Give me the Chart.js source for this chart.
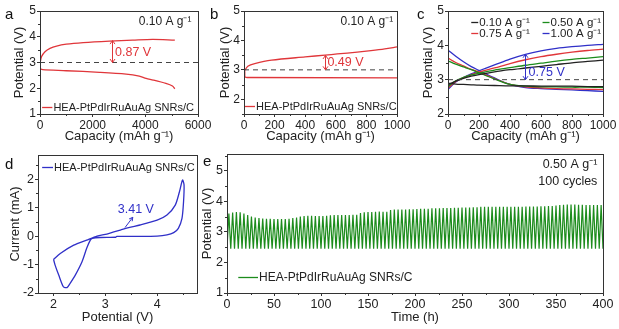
<!DOCTYPE html>
<html>
<head>
<meta charset="utf-8">
<script src="https://cdn.jsdelivr.net/npm/chart.js@4.4.1/dist/chart.umd.min.js"></script>
<style>
  body { margin: 0; background: #fff; width: 619px; height: 329px; overflow: hidden; position: relative;
         font-family: "Liberation Sans", Arial, sans-serif; }
  canvas { position: absolute; }
  .tag { position: absolute; font-size: 15px; color: #111; line-height: 1; }
</style>
</head>
<body>
<canvas id="pa"></canvas>
<canvas id="pb"></canvas>
<canvas id="pc"></canvas>
<canvas id="pd"></canvas>
<canvas id="pe"></canvas>
<div class="tag" style="left:5px;top:6px">a</div>
<div class="tag" style="left:210px;top:6px">b</div>
<div class="tag" style="left:417px;top:6px">c</div>
<div class="tag" style="left:5px;top:156px">d</div>
<div class="tag" style="left:203px;top:153px">e</div>
<script>
// ---- panel a: 0.10 A/g full discharge/charge
const aChargeCap = [0, 60, 190, 380, 630, 1000, 1640, 2640, 3520, 4280, 5120];
const aChargeV   = [2.97, 3.23, 3.42, 3.55, 3.64, 3.71, 3.77, 3.83, 3.87, 3.9, 3.87];
const aDischCap  = [0, 100, 1000, 2260, 3270, 3770, 4030, 4300, 4780, 5030, 5120];
const aDischV    = [2.75, 2.72, 2.68, 2.62, 2.55, 2.47, 2.38, 2.32, 2.19, 2.09, 1.98];
const aXTicks = [0, 2000, 4000, 6000];
const aYTicks = [1, 2, 3, 4, 5];

// ---- panel b: 1000 mAh/g limited capacity
const bChargeCap = [0, 5, 25, 70, 180, 400, 530, 610, 740, 830, 920, 1000];
const bChargeV   = [2.9, 2.98, 3.12, 3.21, 3.33, 3.44, 3.5, 3.54, 3.6, 3.65, 3.71, 3.78];
const bDischCap  = [0, 5, 20, 1000];
const bDischV    = [2.95, 2.76, 2.74, 2.73];
const bXTicks = [0, 200, 400, 600, 800, 1000];
const bYTicks = [2, 3, 4, 5];

// ---- panel c: rate curves
const cCap = [0, 50, 100, 150, 200, 300, 400, 500, 600, 700, 800, 900, 1000];
const cRates = ['0.10 A g⁻¹', '0.50 A g⁻¹', '0.75 A g⁻¹', '1.00 A g⁻¹'];
const cCharge010 = [2.85, 2.96, 3.04, 3.1, 3.15, 3.23, 3.29, 3.34, 3.39, 3.44, 3.49, 3.53, 3.57];
const cCharge050 = [2.8, 2.97, 3.07, 3.14, 3.19, 3.28, 3.35, 3.42, 3.48, 3.54, 3.59, 3.63, 3.67];
const cCharge075 = [2.75, 2.95, 3.06, 3.15, 3.22, 3.34, 3.47, 3.58, 3.67, 3.74, 3.8, 3.85, 3.89];
const cCharge100 = [2.72, 2.93, 3.06, 3.17, 3.26, 3.43, 3.6, 3.74, 3.84, 3.91, 3.96, 4.0, 4.03];
const cDisch010  = [2.9, 2.87, 2.86, 2.85, 2.84, 2.83, 2.82, 2.82, 2.81, 2.81, 2.81, 2.8, 2.8];
const cDisch050  = [3.55, 3.45, 3.37, 3.29, 3.2, 3.02, 2.86, 2.81, 2.79, 2.79, 2.78, 2.78, 2.77];
const cDisch075  = [3.63, 3.5, 3.4, 3.3, 3.22, 3.03, 2.86, 2.79, 2.76, 2.74, 2.73, 2.72, 2.71];
const cDisch100  = [3.86, 3.68, 3.52, 3.38, 3.27, 3.05, 2.86, 2.77, 2.74, 2.72, 2.7, 2.68, 2.66];
const cXTicks = [0, 200, 400, 600, 800, 1000];
const cYTicks = [2, 3, 4, 5];

// ---- panel d: CV loop
const dV = [2.0, 2.13, 2.39, 2.64, 2.84, 3.03, 3.29, 3.45, 3.67, 4.0, 4.19, 4.35, 4.43, 4.49, 4.52, 4.51,
            4.48, 4.41, 4.32, 4.19, 4.0, 3.6, 3.22, 3.2, 2.9, 2.75, 2.71, 2.64, 2.55, 2.42, 2.32, 2.26,
            2.19, 2.1, 2.03, 2.0];
const dI = [-0.82, -0.61, -0.32, -0.14, 0.0, 0.07, 0.21, 0.3, 0.39, 0.56, 0.74, 1.09, 1.55, 1.97, 1.8, 1.2,
            0.62, 0.27, 0.12, 0.04, 0.0, -0.01, -0.01, -0.04, -0.05, -0.08, -0.14, -0.43, -0.9, -1.37, -1.66, -1.81,
            -1.78, -1.37, -1.02, -0.82];
const dXTicks = [2, 3, 4];
const dYTicks = [-2, -1, 0, 1, 2];

// ---- panel e: 100 cycles at 0.50 A/g, 4 h per cycle
const ePeak = [3.60, 3.63, 3.65, 3.64, 3.60, 3.55, 3.50, 3.47, 3.45, 3.44,
               3.43, 3.43, 3.42, 3.42, 3.42, 3.42, 3.43, 3.45, 3.47, 3.50,
               3.52, 3.53, 3.53, 3.52, 3.52, 3.52, 3.53, 3.54, 3.55, 3.55,
               3.55, 3.55, 3.55, 3.56, 3.56, 3.62, 3.64, 3.65, 3.65, 3.66,
               3.67, 3.66, 3.66, 3.72, 3.73, 3.73, 3.73, 3.73, 3.74, 3.74,
               3.75, 3.76, 3.76, 3.76, 3.77, 3.77, 3.77, 3.78, 3.78, 3.78,
               3.79, 3.79, 3.80, 3.80, 3.80, 3.81, 3.81, 3.82, 3.82, 3.82,
               3.82, 3.82, 3.82, 3.82, 3.82, 3.82, 3.82, 3.82, 3.82, 3.83,
               3.83, 3.83, 3.83, 3.84, 3.84, 3.85, 3.85, 3.86, 3.88, 3.89,
               3.90, 3.90, 3.90, 3.89, 3.89, 3.88, 3.88, 3.88, 3.88, 3.88];
const eLow = 2.45;
const eCycleHours = 4;
const eXTicks = [0, 50, 100, 150, 200, 250, 300, 350, 400];
const eYTicks = [1, 2, 3, 4, 5];

const FONT = '"Liberation Sans", Arial, sans-serif';
const INK = '#222';
const RED = '#e0363a';
const BLUE = '#3030c8';
const GREEN = '#1c8c1c';
const BLACK = '#222';

function pts(xs, ys) {
    return xs.map((x, i) => ({ x, y: ys[i] }));
}

function curve(data, color, extra) {
    return Object.assign({ data, borderColor: color, borderWidth: 1.3, pointRadius: 0, tension: 0.3 }, extra || {});
}

function refLine(x0, x1, y) {
    return { data: [{ x: x0, y }, { x: x1, y }], borderColor: '#444', borderWidth: 1,
             borderDash: [5, 4], pointRadius: 0 };
}

function cycleTrace() {
    const out = [];
    ePeak.forEach((p, i) => {
        out.push({ x: i * eCycleHours, y: eLow });
        out.push({ x: i * eCycleHours + eCycleHours / 2, y: p });
    });
    out.push({ x: ePeak.length * eCycleHours, y: eLow });
    return out;
}

// box frame + minor ticks
const frame = {
    id: 'frame',
    afterDraw(chart) {
        const { ctx, chartArea: a } = chart;
        ctx.save();
        ctx.strokeStyle = '#333';
        ctx.lineWidth = 1;
        ctx.strokeRect(Math.round(a.left) + 0.5, Math.round(a.top) + 0.5,
                       Math.round(a.right - a.left), Math.round(a.bottom - a.top));
        const xs = chart.scales.x, ys = chart.scales.y;
        const minors = (s) => {
            const t = s.ticks.map(k => k.value);
            const step = t[1] - t[0];
            const out = [];
            for (let v = t[0] - step / 2; v <= s.max + 1e-9; v += step) {
                if (v >= s.min - 1e-9) out.push(v);
            }
            return out;
        };
        ctx.beginPath();
        minors(xs).forEach(v => {
            const p = Math.round(xs.getPixelForValue(v)) + 0.5;
            ctx.moveTo(p, a.bottom); ctx.lineTo(p, a.bottom + 2);
        });
        minors(ys).forEach(v => {
            const p = Math.round(ys.getPixelForValue(v)) + 0.5;
            ctx.moveTo(a.left, p); ctx.lineTo(a.left - 2, p);
        });
        ctx.stroke();
        ctx.restore();
    }
};

// annotations: texts, arrows, legend keys, all placed in data units
function notes(list) {
    return {
        id: 'notes',
        afterDatasetsDraw(chart) {
            const { ctx } = chart;
            const X = v => chart.scales.x.getPixelForValue(v);
            const Y = v => chart.scales.y.getPixelForValue(v);
            ctx.save();
            list.forEach(n => {
                ctx.strokeStyle = n.c; ctx.fillStyle = n.c;
                if (n.t === 'text') {
                    ctx.font = (n.size || 12) + 'px ' + FONT;
                    ctx.textAlign = n.align || 'left';
                    ctx.textBaseline = 'middle';
                    ctx.fillText(n.s, X(n.x), Y(n.y));
                } else if (n.t === 'arrow') {
                    // double headed, y1 above y2
                    const x = Math.round(X(n.x)) + 0.5, top = Y(n.y1), bot = Y(n.y2);
                    ctx.lineWidth = 1;
                    ctx.beginPath();
                    ctx.moveTo(x, top); ctx.lineTo(x, bot);
                    ctx.moveTo(x - 2.5, top + 3.5); ctx.lineTo(x, top); ctx.lineTo(x + 2.5, top + 3.5);
                    ctx.moveTo(x - 2.5, bot - 3.5); ctx.lineTo(x, bot); ctx.lineTo(x + 2.5, bot - 3.5);
                    ctx.stroke();
                } else if (n.t === 'ray') {
                    const x1 = X(n.x1), y1 = Y(n.y1), x2 = X(n.x2), y2 = Y(n.y2);
                    const ang = Math.atan2(y2 - y1, x2 - x1);
                    ctx.lineWidth = 1;
                    ctx.beginPath();
                    ctx.moveTo(x1, y1); ctx.lineTo(x2, y2);
                    ctx.moveTo(x2 - 4 * Math.cos(ang - 0.5), y2 - 4 * Math.sin(ang - 0.5));
                    ctx.lineTo(x2, y2);
                    ctx.lineTo(x2 - 4 * Math.cos(ang + 0.5), y2 - 4 * Math.sin(ang + 0.5));
                    ctx.stroke();
                } else if (n.t === 'key') {
                    const y = Math.round(Y(n.y)) + 0.5;
                    ctx.lineWidth = 1.3;
                    ctx.beginPath();
                    ctx.moveTo(X(n.x1), y); ctx.lineTo(X(n.x2), y);
                    ctx.stroke();
                    ctx.fillStyle = INK;
                    ctx.font = (n.size || 11) + 'px ' + FONT;
                    ctx.textAlign = 'left';
                    ctx.textBaseline = 'middle';
                    ctx.fillText(n.s, X(n.x2) + 1, y);
                }
            });
            ctx.restore();
        }
    };
}

// box: canvas rect on page, area: wanted plot rect on page, titleX: centre of y title
function makePanel(id, box, area, cfg) {
    const cv = document.getElementById(id);
    cv.width = box.w; cv.height = box.h;
    cv.style.left = box.l + 'px'; cv.style.top = box.t + 'px';
    const padL = cfg.titleX - box.l - 7.5;
    const yW = area.l - box.l - padL;
    const xH = box.t + box.h - area.b;
    const axis = (o) => ({
        type: 'linear', min: o.min, max: o.max,
        afterBuildTicks: s => { s.ticks = o.ticks.map(v => ({ value: v })); },
        grid: { drawOnChartArea: false, drawTicks: true, tickLength: 3, color: '#333', lineWidth: 1 },
        border: { display: false },
        ticks: { padding: 1, color: INK, autoSkip: false, minRotation: 0, maxRotation: 0,
                 font: { family: FONT, size: cfg.tickSize }, callback: v => String(v) },
        title: { display: true, text: o.title, color: INK, padding: 0, font: { family: FONT, size: 13 } }
    });
    const xs = axis(cfg.x);
    xs.afterFit = s => { s.height = xH; s.paddingLeft = 0; s.paddingRight = 0; };
    const ys = axis(cfg.y);
    ys.afterFit = s => { s.width = yW; s.paddingTop = 0; s.paddingBottom = 0; };
    return new Chart(cv, {
        type: 'line',
        data: { datasets: cfg.datasets },
        options: {
            responsive: false,
            animation: false,
            events: [],
            layout: { padding: { left: padL, top: area.t - box.t, right: box.l + box.w - area.r, bottom: 0 } },
            scales: { x: xs, y: ys },
            plugins: { legend: { display: false }, tooltip: { enabled: false } }
        },
        plugins: [frame, notes(cfg.notes)]
    });
}

const capTitle = 'Capacity (mAh g⁻¹)';

makePanel('pa', { l: 0, t: 0, w: 215, h: 144 }, { l: 40, t: 11, r: 198, b: 114 }, {
    titleX: 19, tickSize: 12,
    x: { min: 0, max: 6000, ticks: aXTicks, title: capTitle },
    y: { min: 1, max: 5, ticks: aYTicks, title: 'Potential (V)' },
    datasets: [
        refLine(0, 6000, 3),
        curve(pts(aChargeCap, aChargeV), RED),
        curve(pts(aDischCap, aDischV), RED)
    ],
    notes: [
        { t: 'text', x: 5750, y: 4.57, s: '0.10 A g⁻¹', c: INK, align: 'right', size: 12 },
        { t: 'arrow', x: 2720, y1: 3.85, y2: 3.0, c: RED },
        { t: 'text', x: 2850, y: 3.37, s: '0.87 V', c: RED, size: 12.5 },
        { t: 'key', x1: 80, x2: 470, y: 1.27, s: 'HEA-PtPdIrRuAuAg SNRs/C', c: RED, size: 11 }
    ]
});

makePanel('pb', { l: 205, t: 0, w: 205, h: 144 }, { l: 244, t: 11, r: 397, b: 114 }, {
    titleX: 225, tickSize: 12,
    x: { min: 0, max: 1000, ticks: bXTicks, title: capTitle },
    y: { min: 1.5, max: 5, ticks: bYTicks, title: 'Potential (V)' },
    datasets: [
        refLine(0, 1000, 3),
        curve(pts(bChargeCap, bChargeV), RED),
        curve(pts(bDischCap, bDischV), RED, { tension: 0 })
    ],
    notes: [
        { t: 'text', x: 975, y: 4.63, s: '0.10 A g⁻¹', c: INK, align: 'right', size: 12 },
        { t: 'arrow', x: 530, y1: 3.49, y2: 3.0, c: RED },
        { t: 'text', x: 545, y: 3.25, s: '0.49 V', c: RED, size: 12.5 },
        { t: 'key', x1: 6, x2: 72, y: 1.77, s: 'HEA-PtPdIrRuAuAg SNRs/C', c: RED, size: 11 }
    ]
});

makePanel('pc', { l: 408, t: 0, w: 211, h: 144 }, { l: 448, t: 11, r: 603, b: 114 }, {
    titleX: 428, tickSize: 12,
    x: { min: 0, max: 1000, ticks: cXTicks, title: capTitle },
    y: { min: 2, max: 5, ticks: cYTicks, title: 'Potential (V)' },
    datasets: [
        refLine(0, 1000, 3),
        curve(pts(cCap, cCharge010), BLACK),
        curve(pts(cCap, cDisch010), BLACK),
        curve(pts(cCap, cCharge050), GREEN),
        curve(pts(cCap, cDisch050), GREEN),
        curve(pts(cCap, cCharge075), RED),
        curve(pts(cCap, cDisch075), RED),
        curve(pts(cCap, cCharge100), BLUE),
        curve(pts(cCap, cDisch100), BLUE)
    ],
    notes: [
        { t: 'key', x1: 150, x2: 195, y: 4.68, s: cRates[0], c: BLACK, size: 11.5 },
        { t: 'key', x1: 610, x2: 655, y: 4.68, s: cRates[1], c: GREEN, size: 11.5 },
        { t: 'key', x1: 150, x2: 195, y: 4.36, s: cRates[2], c: RED, size: 11.5 },
        { t: 'key', x1: 610, x2: 655, y: 4.36, s: cRates[3], c: BLUE, size: 11.5 },
        { t: 'arrow', x: 497, y1: 3.74, y2: 3.0, c: BLUE },
        { t: 'text', x: 520, y: 3.22, s: '0.75 V', c: BLUE, size: 12.5 }
    ]
});

makePanel('pd', { l: 0, t: 148, w: 210, h: 177 }, { l: 38, t: 155, r: 197, b: 293 }, {
    titleX: 15, tickSize: 12.5,
    x: { min: 1.7, max: 4.77, ticks: dXTicks, title: 'Potential (V)' },
    y: { min: -2, max: 2.85, ticks: dYTicks, title: 'Current (mA)' },
    datasets: [
        curve(pts(dV, dI), BLUE, { tension: 0.25 })
    ],
    notes: [
        { t: 'key', x1: 1.78, x2: 1.99, y: 2.42, s: 'HEA-PtPdIrRuAuAg SNRs/C', c: BLUE, size: 11 },
        { t: 'ray', x1: 3.38, y1: 0.3, x2: 3.53, y2: 0.66, c: BLUE },
        { t: 'text', x: 3.24, y: 0.93, s: '3.41 V', c: BLUE, size: 12.5 }
    ]
});

makePanel('pe', { l: 200, t: 148, w: 419, h: 177 }, { l: 227, t: 154, r: 603, b: 293 }, {
    titleX: 207, tickSize: 12.5,
    x: { min: 0, max: 400, ticks: eXTicks, title: 'Time (h)' },
    y: { min: 1, max: 5.55, ticks: eYTicks, title: 'Potential (V)' },
    datasets: [
        curve(cycleTrace(), GREEN, { tension: 0, borderWidth: 1.2 })
    ],
    notes: [
        { t: 'text', x: 394, y: 5.2, s: '0.50 A g⁻¹', c: INK, align: 'right', size: 12.5 },
        { t: 'text', x: 394, y: 4.64, s: '100 cycles', c: INK, align: 'right', size: 12.5 },
        { t: 'key', x1: 12, x2: 33, y: 1.52, s: 'HEA-PtPdIrRuAuAg SNRs/C', c: GREEN, size: 12 }
    ]
});
</script>
</body>
</html>
